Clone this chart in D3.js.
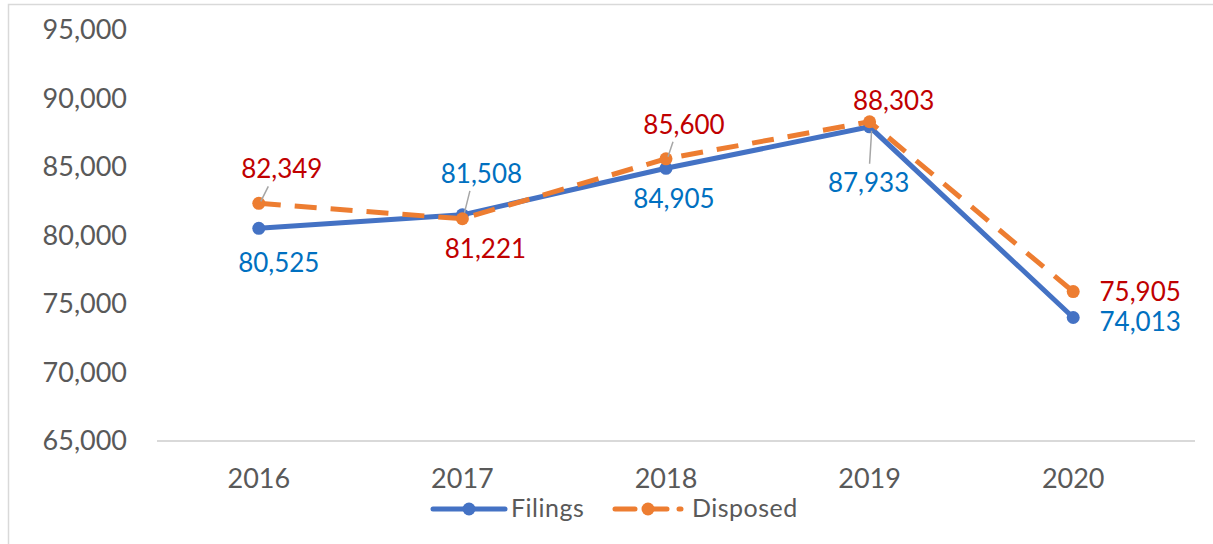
<!DOCTYPE html>
<html>
<head>
<meta charset="utf-8">
<script src="https://cdn.jsdelivr.net/npm/d3@7"></script>
<style>
  body { margin: 0; background: #fff; }
  svg { display: block; font-family: Lato, "Noto Sans", sans-serif; }
</style>
</head>
<body>
<div id="chart"></div>
<script>
const years = ["2016", "2017", "2018", "2019", "2020"];
const filings = [80525, 81508, 84905, 87933, 74013];
const disposed = [82349, 81221, 85600, 88303, 75905];
const yTicks = [65000, 70000, 75000, 80000, 85000, 90000, 95000];

// label placement relative to each point: [dx, dy of baseline, leader?]
const filingsLabelPos = [[20, 44, false], [19, -32, true], [8, 40, false], [-1, 65, true], [67, 13, false]];
const disposedLabelPos = [[23, -25, true], [23, 39, false], [18, -25, true], [24, -12, false], [67, 9, false]];

const W = 1213, H = 544;

const svg = d3.select("#chart").append("svg")
    .attr("width", W)
    .attr("height", H);

// chart frame
svg.append("path")
    .attr("d", `M8.5,${H} V4.5 H${W}`)
    .attr("fill", "none")
    .attr("stroke", "#d9d9d9")
    .attr("stroke-width", 1.5);

const x = d3.scaleBand()
    .domain(years)
    .range([157, 1175]);

const y = d3.scaleLinear()
    .domain([65000, 95000])
    .range([441, 30]);

const fmt = d3.format(",");

// y axis labels
svg.append("g")
    .attr("transform", `translate(127,0)`)
    .call(d3.axisLeft(y).tickValues(yTicks).tickSize(0).tickPadding(0).tickFormat(fmt))
    .call(g => g.select(".domain").remove())
    .selectAll("text")
    .attr("font-size", 27)
    .attr("font-family", "Lato, sans-serif")
    .attr("fill", "#595959");

// x axis
svg.append("line")
    .attr("x1", 157).attr("x2", 1195)
    .attr("y1", y(65000)).attr("y2", y(65000))
    .attr("stroke", "#d9d9d9")
    .attr("stroke-width", 2);

svg.append("g")
    .attr("transform", `translate(0,${y(65000)})`)
    .call(d3.axisBottom(x).tickSize(0).tickPadding(28))
    .call(g => g.select(".domain").remove())
    .selectAll("text")
    .attr("font-size", 27)
    .attr("font-family", "Lato, sans-serif")
    .attr("fill", "#595959");

const cx = d => x(d) + x.bandwidth() / 2;

const series = [
    { name: "Filings", values: filings, color: "#4472c4", labelColor: "#0070c0", dash: null, pos: filingsLabelPos },
    { name: "Disposed", values: disposed, color: "#ed7d31", labelColor: "#c00000", dash: "22,14", pos: disposedLabelPos }
];

const line = d3.line()
    .x((d, i) => cx(years[i]))
    .y(d => y(d));

series.forEach(s => {
    svg.append("path")
        .datum(s.values)
        .attr("d", line)
        .attr("fill", "none")
        .attr("stroke", s.color)
        .attr("stroke-width", 5)
        .attr("stroke-dasharray", s.dash);

    svg.append("g").selectAll("circle")
        .data(s.values)
        .enter()
        .append("circle")
        .attr("cx", (d, i) => cx(years[i]))
        .attr("cy", d => y(d))
        .attr("r", 6.5)
        .attr("fill", s.color);
});

// leader lines and data labels
series.forEach(s => {
    s.values.forEach((v, i) => {
        const px = cx(years[i]), py = y(v);
        const [dx, dy, leader] = s.pos[i];
        if (leader) {
            let x1, y1;
            if (dy < 0) { x1 = px + dx * 0.5 - 2; y1 = py + dy + 8; }
            else { x1 = px; y1 = py + dy - 28; }
            svg.append("line")
                .attr("x1", x1).attr("y1", y1)
                .attr("x2", px + 2).attr("y2", py - (dy < 0 ? 2 : -4))
                .attr("stroke", "#a6a6a6")
                .attr("stroke-width", 1.5);
        }
        svg.append("text")
            .attr("x", px + dx)
            .attr("y", py + dy)
            .attr("text-anchor", "middle")
            .attr("font-size", 26)
            .attr("fill", s.labelColor)
            .text(fmt(v));
    });
});

// legend
const legend = svg.append("g").attr("transform", "translate(0,509)");
const legendItems = [
    { s: series[0], x0: 433, x1: 505, tx: 511 },
    { s: series[1], x0: 615, x1: 681, tx: 692 }
];
legendItems.forEach(l => {
    legend.append("line")
        .attr("x1", l.x0).attr("x2", l.x1)
        .attr("stroke", l.s.color)
        .attr("stroke-width", 5)
        .attr("stroke-linecap", "round")
        .attr("stroke-dasharray", l.s.dash ? "20,12" : null);
    legend.append("circle")
        .attr("cx", (l.x0 + l.x1) / 2)
        .attr("r", 6.5)
        .attr("fill", l.s.color);
    legend.append("text")
        .attr("x", l.tx)
        .attr("y", 8)
        .attr("font-size", 25)
        .attr("letter-spacing", 0.5)
        .attr("fill", "#595959")
        .text(l.s.name);
});
</script>
</body>
</html>
